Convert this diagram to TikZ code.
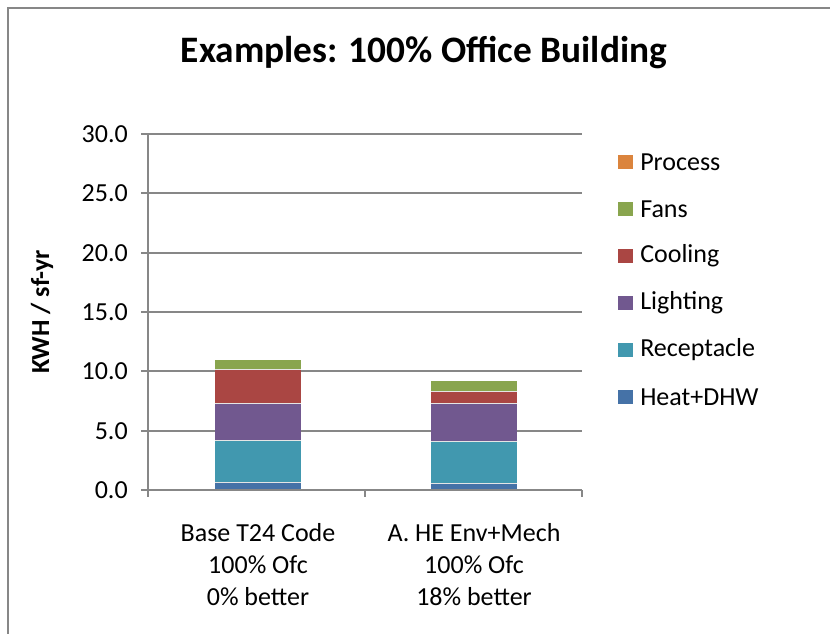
\documentclass[tikz,border=0pt]{standalone}
\usepackage{fontspec}
\setmainfont{Carlito}
\definecolor{cheat}{HTML}{4572A7}
\definecolor{crec}{HTML}{4198AF}
\definecolor{clight}{HTML}{71588F}
\definecolor{ccool}{HTML}{AA4643}
\definecolor{cfans}{HTML}{89A54E}
\definecolor{cproc}{HTML}{DB843D}
\definecolor{cgrid}{HTML}{878787}
\newcommand{\lbl}{\fontsize{19.5}{24}\selectfont}
\begin{document}
\begin{tikzpicture}[x=0.75pt,y=-0.75pt,
  gridline/.style={draw=cgrid,line width=1.4pt},
  seg/.style={draw=white!80!gray,line width=0.5pt},
  ticklbl/.style={anchor=east,inner sep=0pt,font=\lbl},
  legtxt/.style={anchor=west,inner sep=0pt,font=\lbl},
  catlbl/.style={align=center,inner sep=0pt,font=\lbl}]
\useasboundingbox (0,0) rectangle (830,634);
\fill[white] (0,0) rectangle (830,634);
% chart frame
\draw[draw=cgrid,line width=1.4pt] (8,634) -- (8,8) -- (830,8);
% title
\node[font=\fontsize{28}{32}\selectfont\bfseries] (title) at (424,53) {Examples: 100\% Office Building};
% gridlines
\foreach \k in {1,...,6} {
  \draw[gridline] (141,{490-59.33*\k}) -- (582,{490-59.33*\k});
}
% bars
\def\ys#1{{490-11.867*#1}}
\foreach \xa/\xb/\a/\b/\c/\d/\e in {215/301/0.61/4.15/7.30/10.13/10.95, 431/517/0.53/4.13/7.30/8.28/9.18} {
  \fill[cheat]  (\xa,490) rectangle (\xb,{490-11.867*\a});
  \fill[crec]   (\xa,{490-11.867*\a}) rectangle (\xb,{490-11.867*\b});
  \fill[clight] (\xa,{490-11.867*\b}) rectangle (\xb,{490-11.867*\c});
  \fill[ccool]  (\xa,{490-11.867*\c}) rectangle (\xb,{490-11.867*\d});
  \fill[cfans]  (\xa,{490-11.867*\d}) rectangle (\xb,{490-11.867*\e});
  \foreach \v in {\a,\b,\c,\d} {\draw[seg] (\xa,{490-11.867*\v}) -- (\xb,{490-11.867*\v});}
}
% axes
\draw[gridline] (148,134) -- (148,497);
\draw[gridline] (141,490) -- (582,490);
\foreach \x in {365,582} {\draw[gridline] (\x,490) -- (\x,497);}
% tick labels
\foreach \k/\t in {0/0.0,1/5.0,2/10.0,3/15.0,4/20.0,5/25.0,6/30.0} {
  \node[ticklbl] (t\k) at (128,{490-59.33*\k}) {\t};
}
% axis title
\node[rotate=90,font=\lbl\bfseries] (ytitle) at (42,312) {KWH / sf-yr};
% category labels
\node[catlbl] (cat1) at (258,565) {Base T24 Code\\100\% Ofc\\0\% better};
\node[catlbl] (cat2) at (474,565) {A. HE Env+Mech\\100\% Ofc\\18\% better};
% legend
\foreach \i/\c/\t in {0/cproc/Process,1/cfans/Fans,2/ccool/Cooling,3/clight/Lighting,4/crec/Receptacle,5/cheat/Heat+DHW} {
  \fill[\c] (618,{162+47*\i-7}) rectangle (633,{162+47*\i+7});
  \node[legtxt] (leg\i) at (640,{162+47*\i}) {\t};
}
\end{tikzpicture}
\end{document}
